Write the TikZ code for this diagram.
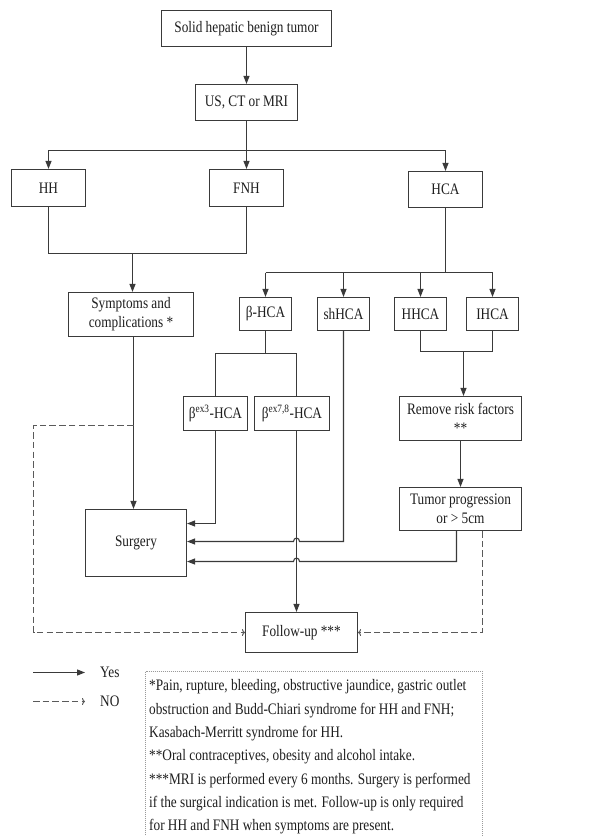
\documentclass[tikz,border=0pt]{standalone}
\usepackage{fontspec}
\setmainfont{Liberation Serif}[FakeStretch=0.83]
\usetikzlibrary{arrows.meta}
\definecolor{ln}{HTML}{3A3A3A}
\definecolor{dl}{HTML}{5A5A5A}
\definecolor{tx}{HTML}{1E1E1E}
\definecolor{nb}{HTML}{9A9A9A}
\begin{document}
\begin{tikzpicture}[x=1pt,y=-1pt,
  box/.style={draw=ln, line width=1.1pt, text=tx, font=\fontsize{16}{19}\selectfont, inner sep=0pt, align=center},
  txt/.style={text=tx, font=\fontsize{16}{19}\selectfont, inner sep=0pt},
  line/.style={draw=ln, line width=1.1pt},
  arr/.style={line, -{Triangle[length=8pt,width=6pt]}},
  noarr/.style={draw=dl, line width=1pt, dash pattern=on 6.5pt off 3.2pt, -{To[length=3pt,width=7pt]}},
  ]
\fill[white] (0,0) rectangle (609,836);
\useasboundingbox (0,0) rectangle (609,836);

% nodes
\node[box, minimum width=170pt, minimum height=36pt] (top) at (246.5,28.5) {Solid hepatic benign tumor};
\node[box, minimum width=102pt, minimum height=36pt] (us) at (246.5,102.5) {US, CT or MRI};
\node[box, minimum width=74pt, minimum height=37pt] (hh) at (48.5,188) {HH};
\node[box, minimum width=74pt, minimum height=37pt] (fnh) at (246.5,188) {FNH};
\node[box, minimum width=74pt, minimum height=36pt] (hca) at (445.5,189.5) {HCA};
\node[box, minimum width=125pt, minimum height=44pt] (symp) at (131,314.5) {Symptoms and\\complications *};
\node[box, minimum width=52pt, minimum height=33pt] (bhca) at (265.5,314) {β-HCA};
\node[box, minimum width=52pt, minimum height=33pt] (shhca) at (343.5,314) {shHCA};
\node[box, minimum width=52pt, minimum height=33pt] (hhca) at (420.5,314) {HHCA};
\node[box, minimum width=52pt, minimum height=33pt] (ihca) at (492.5,314) {IHCA};
\node[box, minimum width=64pt, minimum height=34pt] (bex3) at (215.5,413.5) {β\textsuperscript{ex3}-HCA};
\node[box, minimum width=75pt, minimum height=34pt] (bex78) at (292,413.5) {β\textsuperscript{ex7,8}-HCA};
\node[box, minimum width=122pt, minimum height=44pt] (remove) at (460.5,418.5) {Remove risk factors\\**};
\node[box, minimum width=122pt, minimum height=43pt] (tumor) at (460.5,509) {Tumor progression\\or > 5cm};
\node[box, minimum width=101pt, minimum height=67pt] (surgery) at (136,543) {Surgery};
\node[box, minimum width=112pt, minimum height=40pt] (follow) at (301.5,632.5) {Follow-up ***};

% top part
\coordinate (jA) at (246.5,150.5);
\draw[arr] (top.south) -- (us.north);
\draw[line] (us.south) -- (jA);
\draw[arr] (jA) -- (fnh.north);
\draw[arr] (jA) -| (hh.north);
\draw[arr] (jA) -| (hca.north);

% HH / FNH join
\coordinate (jB) at (132.5,253.5);
\draw[line] (hh.south) |- (jB);
\draw[line] (fnh.south) |- (jB);
\draw[arr] (jB) -- (jB |- symp.north);

% HCA split
\coordinate (jC) at (445.5,272.5);
\draw[line] (hca.south) -- (jC);
\draw[line] (bhca.north |- jC) -- (ihca.north |- jC);
\foreach \n in {bhca,shhca,hhca,ihca} \draw[arr] (\n.north |- jC) -- (\n.north);

% beta-HCA split
\coordinate (jD) at (265.5,353.5);
\coordinate (v78) at (296.5,353.5);
\draw[line] (bhca.south) -- (jD);
\draw[line] (bex3.north) |- (v78) -- (v78 |- bex78.north);

% HHCA / IHCA join
\coordinate (jE) at (463.5,351.5);
\draw[line] (hhca.south) |- (jE);
\draw[line] (ihca.south) |- (jE);
\draw[arr] (jE) -- (jE |- remove.north);
\draw[arr] (remove.south) -- (tumor.north);

% to surgery
\coordinate (y1) at (0,523.5);
\coordinate (y2) at (0,541.5);
\coordinate (y3) at (0,561.5);
\coordinate (vS) at (133.5,0);
\coordinate (tL) at (456.5,0);
\draw[arr] (vS |- symp.south) -- (vS |- surgery.north);
\draw[arr] (bex3.south) |- (surgery.east |- y1);
\draw[arr] (shhca.south) -- (shhca.south |- y2) -- (299.5,541.5) .. controls (299.5,537) and (293.5,537) .. (293.5,541.5) -- (surgery.east |- y2);
\draw[arr] (tL |- tumor.south) -- (tL |- y3) -- (299.5,561.5) .. controls (299.5,557) and (293.5,557) .. (293.5,561.5) -- (surgery.east |- y3);

% to follow-up
\draw[arr] (v78 |- bex78.south) -- (v78 |- follow.north);
\coordinate (jF) at (133.5,425.5);
\coordinate (dL) at (33.5,425.5);
\coordinate (dR) at (482.5,0);
\draw[noarr] (jF) -- (dL) |- (follow.west);
\draw[noarr] (dR |- tumor.south) |- (follow.east);

% legend
\coordinate (l1) at (33,672.5);
\coordinate (l2) at (85,672.5);
\coordinate (l3) at (33,701.5);
\coordinate (l4) at (85,701.5);
\draw[arr] (l1) -- (l2);
\draw[noarr] (l3) -- (l4);
\node[txt, anchor=west] (yes) at (100,672.7) {Yes};
\node[txt, anchor=west] (no) at (100,701.7) {NO};

% note
\draw[draw=nb, line width=0.9pt, dash pattern=on 1pt off 1pt] (145.5,671.5) rectangle (482.5,850);
\node[txt, anchor=north west, align=left, font=\fontsize{16}{23.3}\selectfont] (note) at (149,679.5)
{*Pain, rupture, bleeding, obstructive jaundice, gastric outlet\\
obstruction and Budd-Chiari syndrome for HH and FNH;\\
Kasabach-Merritt syndrome for HH.\\
**Oral contraceptives, obesity and alcohol intake.\\
***MRI is performed every 6 months. Surgery is performed\\
if the surgical indication is met. Follow-up is only required\\
for HH and FNH when symptoms are present.};
\end{tikzpicture}
\end{document}
